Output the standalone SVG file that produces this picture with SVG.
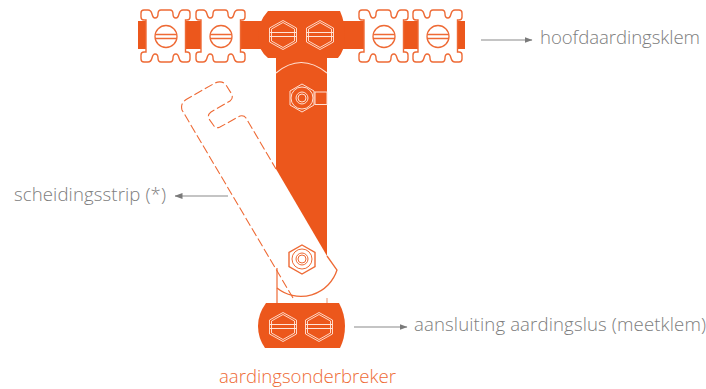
<svg xmlns="http://www.w3.org/2000/svg" width="706" height="389" viewBox="0 0 706 389">
<style>
.o{fill:#ec571c}
.cell{fill:#fff;stroke:#ee6a35;stroke-width:1.4}
.scr{fill:#fff;stroke:#ee6a35;stroke-width:1.3}
.hl{fill:none;stroke:#ffd9c8;stroke-width:1}
.t{font-family:"Open Sans","Liberation Sans",Arial,sans-serif;font-weight:300;font-size:18.600px;fill:#7d7d7d}
.conn{stroke:#8a8a8a;stroke-width:1.1;fill:none;marker-end:url(#ah)}
</style>
<defs>
<marker id="ah" markerWidth="8" markerHeight="7" refX="7.500" refY="3" orient="auto" markerUnits="userSpaceOnUse"><path d="M0,0L8,3L0,6Z" fill="#7a7a7a"/></marker>
<g id="cell">
<path class="cell" d="M3,0H7Q10,0 11,4Q12,8 14,8Q17,8 17,4Q17,0 20,0H29Q32,0 32,4Q32,8 35,8Q37,8 38,4Q39,0 42,0H46Q49,0 49,3V7Q49,10 46,10H44.500V42H46Q49,42 49,45V49Q49,52 46,52H42Q39,52 38,48Q37,44 35,44Q32,44 32,48Q32,52 29,52H20Q17,52 17,48Q17,44 14,44Q12,44 11,48Q10,52 7,52H3Q0,52 0,49V45Q0,42 3,42H5V10H3Q0,10 0,7V3Q0,0 3,0Z"/>
<circle class="scr" cx="25" cy="26.500" r="11"/>
<path d="M14.500,24.500H35.500M14.500,28.500H35.500" stroke="#ee6a35" stroke-width="1.300"/>
</g>
<g id="hex">
<path class="hl" d="M0,-14.500L13.500,-7V7L0,14.500L-13.500,7V-7Z"/>
<path class="hl" d="M0,-12.500L11.500,-6V6L0,12.500L-11.500,6V-6Z"/>
<path d="M-13.500,-2.500H13.500M-13.500,1.500H13.500" stroke="#ffe4d8" stroke-width="1.100"/>
</g>
</defs>

<g id="hoofdaardingsklem">
<rect class="o" x="138" y="21" width="10" height="28"/>
<rect class="o" x="184" y="21" width="18" height="28"/>
<rect class="o" x="238" y="21" width="130" height="28"/>
<rect class="o" x="402" y="21" width="16" height="28"/>
<rect class="o" x="455" y="21" width="10" height="28"/>
<use href="#cell" x="141" y="10"/>
<use href="#cell" x="196" y="10"/>
<use href="#cell" x="359" y="10"/>
<use href="#cell" x="413" y="10"/>
<path class="o" d="M268,11H340Q345,22 345,36Q345,50 338,58H327V70H276V58H268Q258,50 258,36Q258,22 268,11Z"/>
<use href="#hex" x="283" y="35"/>
<use href="#hex" x="320" y="35"/>
</g>

<g id="strip">
<path class="o" d="M276,56H327V256L276,169Z"/>
<path d="M276,73Q301,52 327,73" fill="none" stroke="#ffe0d3" stroke-width="1.200"/>
<g fill="none" stroke="#ffe0d3" stroke-width="1">
<path d="M302,84L314,91V105L302,112L290,105V91Z"/>
<circle cx="302" cy="98" r="11"/>
<circle cx="302" cy="98" r="6"/>
<circle cx="302" cy="98" r="4"/>
<rect x="315" y="92" width="12" height="12.500"/>
</g>
</g>

<g id="scheidingsstrip">
<path d="M277,268V303" stroke="#ee6a35" stroke-width="1.200" fill="none"/>
<path d="M327,298V303" stroke="#f0a585" stroke-width="1.200" fill="none"/>
<path d="M293,298L182,110Q180,103 187,99L215,83Q222,80 226,85L231,93Q234,98 230,101L211,112Q207,115 209,119L214,126Q216,129 220,127L240,116Q244,115 246,118L276,169" fill="none" stroke="#ee6a35" stroke-width="1.100" stroke-dasharray="9 3"/>
<path d="M327,256L337,270A38,38 0 0 1 277,288" fill="none" stroke="#ee6a35" stroke-width="1.300"/>
<g fill="none" stroke="#ee6a35" stroke-width="1">
<path d="M302,245L315,252.500V266.500L302,274L289,266.500V252.500Z" stroke-width="1.400"/>
<circle cx="302" cy="259" r="10"/>
<circle cx="302" cy="259" r="6"/>
<circle cx="302" cy="259" r="4"/>
</g>
</g>

<g id="meetklem">
<path class="o" d="M266,303H339Q345,314 345,326Q345,338 340,348H265Q258,338 258,326Q258,314 266,303Z"/>
<use href="#hex" x="283" y="327"/>
<use href="#hex" x="319" y="327"/>
</g>

<g id="connectors">
<path class="conn" d="M481,40H532"/>
<path class="conn" d="M228,196H175"/>
<path class="conn" d="M354,327H407"/>
</g>

<g id="labels">
<text class="t" x="540" y="44" textLength="160">hoofdaardingsklem</text>
<text class="t" x="14" y="201" textLength="152">scheidingsstrip (*)</text>
<text class="t" x="414" y="331" textLength="292">aansluiting aardingslus (meetklem)</text>
<text class="t" x="219" y="383" textLength="177" style="fill:#ee6a35">aardingsonderbreker</text>
</g>
</svg>
